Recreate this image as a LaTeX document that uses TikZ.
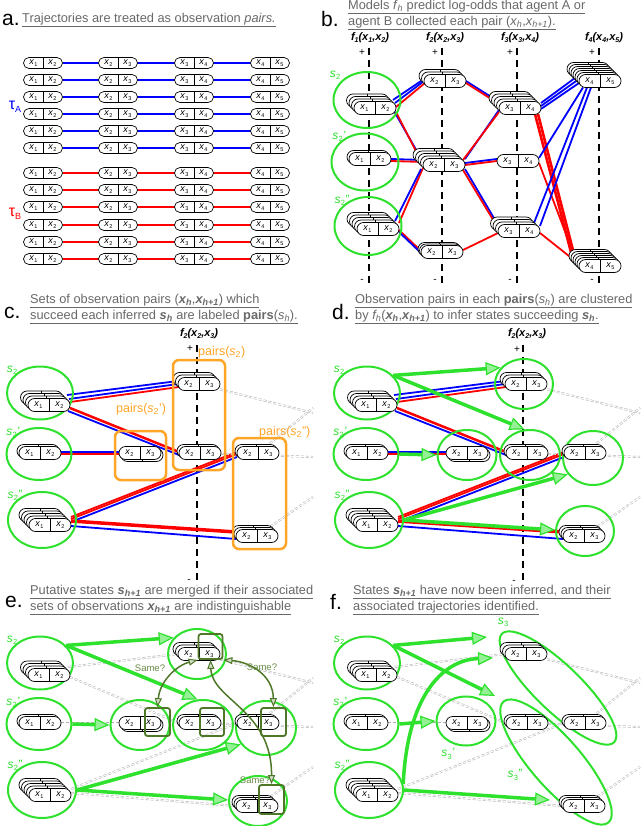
\documentclass[tikz,border=0pt]{standalone}
\usepackage{fontspec}
\setmainfont{Liberation Sans}
\setsansfont{Liberation Sans}
\usetikzlibrary{shapes.geometric,arrows.meta,calc}
\pgfdeclarelayer{back}
\pgfdeclarelayer{bg}
\pgfsetlayers{back,bg,main}
\definecolor{mygreen}{RGB}{45,225,45}
\definecolor{limefill}{RGB}{150,240,150}
\definecolor{dkg}{RGB}{78,120,40}
\definecolor{org}{RGB}{255,165,40}
\definecolor{ttlgray}{RGB}{105,105,105}
\definecolor{blu}{RGB}{0,0,255}
\definecolor{rd}{RGB}{255,0,0}
\definecolor{gry}{RGB}{175,175,175}
\newcommand\xx[1]{\textit{x}\kern0.2pt\raisebox{-0.3ex}{\fontsize{5.5}{6}\selectfont #1}}
\newcommand\sv[2]{\textit{s}\kern0.2pt\raisebox{-0.35ex}{\fontsize{7.5}{7.5}\selectfont #1}\textit{#2}}
\newcommand\fh[3]{{\bfseries\itshape f\raisebox{-0.3ex}{\fontsize{7}{7}\selectfont #1}(x\raisebox{-0.3ex}{\fontsize{7}{7}\selectfont #2},x\raisebox{-0.3ex}{\fontsize{7}{7}\selectfont #3})}}
\newcommand\pill[7]{%
  \ifnum#6>0
    \foreach \k in {#6,...,1}{%
      \draw[pillbg] ({#2-\pw-(#7)*\k},{#3-\ph-(#7)*\k}) rectangle ({#2+\pw-(#7)*\k},{#3+\ph-(#7)*\k});
      \draw[line width=0.7pt] ({#2-(#7)*\k},{#3-\ph-(#7)*\k}) -- ({#2-(#7)*\k},{#3+\ph-(#7)*\k});
    }%
  \fi
  \node[pillnode] (#1) at (#2,#3) {};
  \draw[line width=0.7pt] (#1.north) -- (#1.south);
  \node[pilltxt] at ([xshift=-\tq pt]#1.center) {\xx{#4}};
  \node[pilltxt] at ([xshift=\tq pt]#1.center) {\xx{#5}};
}
% block shared by panels c-f (coordinates of panel c)
\newcommand\blockell[1]{%
  \node[gell, minimum width=66pt, minimum height=53pt] (#1Es2) at (40,393) {};
  \node[gell, minimum width=65pt, minimum height=52pt] (#1Es2p) at (39,454) {};
  \node[gell, minimum width=68pt, minimum height=56pt] (#1Es2pp) at (42,520) {};
  \node[glab] at (12,370) {\sv{2}{}};
  \node[glab] at (13,432) {\sv{2}{'}};
  \node[glab] at (15,495) {\sv{2}{''}};
}
\newcommand\blockpills[1]{%
  \pill{#1s2}{49}{405}{1}{2}{3}{2.5}
  \pill{#1s2p}{40}{453}{1}{2}{1}{2}
  \pill{#1s2pp}{50}{525}{1}{2}{4}{2.5}
  \pill{#1top}{199}{384}{2}{3}{2}{2.5}
  \pill{#1mid}{200}{453}{2}{3}{1}{2}
  \pill{#1lft}{140}{453}{2}{3}{1}{-2}
  \pill{#1rt}{258}{453}{2}{3}{1}{2}
  \pill{#1rb}{257}{536}{2}{3}{2}{2}
}
\newcommand\blockclusters[1]{%
  \node[gell, minimum width=58pt, minimum height=50pt] (#1Ctop) at (197,384) {};
  \node[gell, minimum width=60pt, minimum height=50pt] (#1Cmid) at (203,455) {};
  \node[gell, minimum width=59pt, minimum height=50pt] (#1Clft) at (140,455) {};
  \node[gell, minimum width=60pt, minimum height=54pt] (#1Crt) at (266,458) {};
  \node[gell, minimum width=58pt, minimum height=50pt] (#1Crb) at (258,531) {};
}
\newcommand\blockgreyright[1]{%
  \coordinate (#1g1) at (313,413);
  \coordinate (#1g2) at (313,457);
  \coordinate (#1g3) at (313,408);
  \coordinate (#1g4) at (313,497);
  \begin{pgfonlayer}{bg}
    \draw[gdash] (#1top) -- (#1g1);
    \draw[gdash] (#1mid) -- (#1g2);
    \draw[gdash] (#1rt) -- (#1g3);
    \draw[gdash] (#1rb) -- (#1g4);
  \end{pgfonlayer}
}
\newcommand\blockcolor[1]{%
  \begin{pgfonlayer}{bg}
    \draw[bl] ($(#1s2.east)+(-3,-10)$) -- ($(#1top.west)+(0,-3)$);
    \draw[bl] ($(#1s2.east)+(-1,-6)$) -- ($(#1top.west)+(0,0)$);
    \draw[rl] ($(#1s2.east)+(0,-3)$) -- ($(#1top.west)+(1,3)$);
    \draw[rl, line width=2.5pt] ($(#1s2.east)+(0,3)$) -- ($(#1mid.west)+(0,-1)$);
    \draw[bl] ($(#1s2.east)+(-2,6)$) -- ($(#1mid.west)+(0,2)$);
    \draw[bl] ($(#1s2p.east)+(0,-1)$) -- ($(#1lft.west)+(0,-1)$);
    \draw[rl] ($(#1s2p.east)+(0,1)$) -- ($(#1lft.west)+(0,1)$);
    \draw[rl] ($(#1s2pp.east)+(0,-8)$) -- ($(#1rt.west)+(0,-1)$);
    \draw[rl] ($(#1s2pp.east)+(0,-6)$) -- ($(#1rt.west)+(0,1)$);
    \draw[bl] ($(#1s2pp.east)+(0,-3)$) -- ($(#1rt.west)+(0,4)$);
    \draw[rl, line width=3.5pt] ($(#1s2pp.east)+(0,-4)$) -- ($(#1rb.west)+(0,-4)$);
    \draw[bl] ($(#1s2pp.east)+(0,1)$) -- ($(#1rb.west)+(0,3)$);
  \end{pgfonlayer}
}
\newcommand\blockgreyconn[1]{%
  \begin{pgfonlayer}{bg}
    \draw[gdash] ($(#1s2.east)+(-2,-8)$) -- ($(#1top.west)+(0,0)$);
    \draw[gdash] ($(#1s2.east)+(0,2)$) -- (#1mid.west);
    \draw[gdash] (#1s2p.east) -- (#1lft.west);
    \draw[gdash] ($(#1s2pp.east)+(0,-6)$) -- (#1rt.west);
    \draw[gdash] ($(#1s2pp.east)+(0,-2)$) -- (#1rb.west);
  \end{pgfonlayer}
}
\newcommand\blockarrows[1]{%
  \draw[garr] (#1Es2.34) -- (#1Ctop.145);
  \draw[garr] (#1Es2.34) -- (#1Cmid.102);
  \draw[garr] (#1Es2p.east) -- (#1Clft.west);
  \draw[garr] (#1Es2pp.east) -- (#1Crt.213);
  \draw[garr] (#1Es2pp.east) -- (#1Crb.178);
}
\tikzset{
  pillnode/.style={draw, line width=0.7pt, fill=white, rounded corners=\ph pt, minimum width=\pwf pt, minimum height=\phf pt, inner sep=0pt, outer sep=0pt},
  pillbg/.style={draw, line width=0.7pt, fill=white, rounded corners=\ph pt},
  pilltxt/.style={font=\fontsize{9}{9}\selectfont, inner sep=0pt},
  gell/.style={draw=mygreen, line width=2pt, ellipse, inner sep=0pt},
  glab/.style={text=mygreen, font=\fontsize{12}{12}\selectfont, inner sep=0pt},
  bl/.style={draw=blu, line width=1.8pt},
  rl/.style={draw=rd, line width=1.8pt},
  vdash/.style={line width=2pt, dash pattern=on 7pt off 5pt},
  gdash/.style={draw=gry, line width=0.5pt, dash pattern=on 3pt off 2pt, double=white, double distance=1pt},
  garr/.style={draw=mygreen, line width=3.5pt, -{Triangle[length=15pt,width=13pt,fill=limefill,line width=1.2pt]}},
  obox/.style={draw=org, line width=2.5pt, rounded corners=6pt},
  olab/.style={text=org, font=\fontsize{12.5}{12.5}\selectfont, inner sep=0pt, anchor=west},
  kbox/.style={draw=dkg, line width=1.8pt, rounded corners=2.5pt, inner sep=0pt},
  kcur/.style={draw=dkg, line width=1.5pt, {Triangle[length=9pt,width=7pt,fill=dkg!25,line width=1pt]}-{Triangle[length=9pt,width=7pt,fill=dkg!25,line width=1pt]}},
  klab/.style={text=dkg!85, font=\fontsize{9.5}{9.5}\selectfont, inner sep=0pt},
  ttl/.style={text=ttlgray, font=\fontsize{12.8}{12.8}\selectfont, anchor=west, inner sep=0pt},
  plet/.style={font=\fontsize{21}{21}\selectfont, anchor=west, inner sep=0pt},
  hdr/.style={font=\fontsize{11}{11}\selectfont, inner sep=0pt},
  pm/.style={font=\fontsize{10}{10}\selectfont, inner sep=0pt},
}
\begin{document}
\begin{tikzpicture}[x=1pt,y=-1pt]
\begin{pgfonlayer}{back}
  \fill[white] (0,0) rectangle (640,826);
\end{pgfonlayer}
\useasboundingbox (0,0) rectangle (640,826);

%%%%%%%%%%%%%%%% panel a
\node[plet] at (2,20) {a.};
\node[ttl] at (22,20) {\underline{Trajectories are treated as observation \textit{pairs.}}};
\def\pw{19.5}\def\ph{5.5}\def\pwf{39}\def\phf{11}\def\tq{9.5}
\foreach \r/\yy in {1/63,2/80,3/97,4/114,5/131,6/148}{
  \pill{aA\r p}{43}{\yy}{1}{2}{0}{0}
  \pill{aA\r q}{118}{\yy}{2}{3}{0}{0}
  \pill{aA\r r}{194}{\yy}{3}{4}{0}{0}
  \pill{aA\r s}{270}{\yy}{4}{5}{0}{0}
  \begin{pgfonlayer}{bg}
    \draw[bl, line width=2pt] (aA\r p) -- (aA\r s);
  \end{pgfonlayer}
}
\foreach \r/\yy in {1/173,2/190,3/207,4/225,5/242,6/259}{
  \pill{aB\r p}{43}{\yy}{1}{2}{0}{0}
  \pill{aB\r q}{118}{\yy}{2}{3}{0}{0}
  \pill{aB\r r}{194}{\yy}{3}{4}{0}{0}
  \pill{aB\r s}{270}{\yy}{4}{5}{0}{0}
  \begin{pgfonlayer}{bg}
    \draw[rl, line width=2pt] (aB\r p) -- (aB\r s);
  \end{pgfonlayer}
}
\node[text=blu, font=\fontsize{16}{16}\selectfont, inner sep=0pt] (tauA) at (15,107) {τ\raisebox{-0.3ex}{\fontsize{9}{9}\selectfont A}};
\node[text=rd, font=\fontsize{16}{16}\selectfont, inner sep=0pt] (tauB) at (15,214) {τ\raisebox{-0.3ex}{\fontsize{9}{9}\selectfont B}};

%%%%%%%%%%%%%%%% panel b
\node[plet] at (321,19) {b.};
\node[ttl] at (348,7) {\underline{Models \textit{f}\textsubscript{\textit{h}} predict log-odds that agent A or}};
\node[ttl] at (348,23) {\underline{agent B collected each pair (\textit{x\textsubscript{h}},\textit{x\textsubscript{h+1}}).}};
\node[hdr] at (370,38) {\fh{1}{1}{2}};
\node[hdr] at (445,38) {\fh{2}{2}{3}};
\node[hdr] at (520,38) {\fh{3}{3}{4}};
\node[hdr] at (604,38) {\fh{4}{4}{5}};
\foreach \xv in {369,442,517,599}{
  \node[pm] at (\xv-7,53) {+};
  \node[pm] at (\xv-7,281) {-};
  \begin{pgfonlayer}{bg}
    \draw[vdash] (\xv,48) -- (\xv,285);
  \end{pgfonlayer}
}
\node[gell, minimum width=67pt, minimum height=56pt] (bE1) at (367,100) {};
\node[gell, minimum width=67pt, minimum height=57pt] (bE2) at (365,162) {};
\node[gell, minimum width=67pt, minimum height=58pt] (bE3) at (368,226) {};
\node[glab] at (335,75) {\sv{2}{}};
\node[glab] at (339,136) {\sv{2}{'}};
\node[glab] at (342,200) {\sv{2}{''}};
\def\pw{21}\def\ph{6.5}\def\pwf{42}\def\phf{13}\def\tq{10.5}
\pill{b11}{375}{108}{1}{2}{3}{2.5}
\pill{b12}{370}{159}{1}{2}{1}{2}
\pill{b13}{378}{229}{1}{2}{4}{2.5}
\pill{b21}{445}{81}{2}{3}{2}{2.5}
\pill{b22}{444}{165}{2}{3}{4}{2.5}
\pill{b23}{442}{252}{2}{3}{2}{1.5}
\pill{b31}{520}{108}{3}{4}{4}{2.5}
\pill{b32}{518}{161}{3}{4}{0}{0}
\pill{b33}{519}{231}{3}{4}{3}{2.5}
\pill{b41}{600}{81}{4}{5}{6}{2}
\pill{b42}{600}{266}{4}{5}{5}{2}
\begin{pgfonlayer}{bg}
  \draw[bl] ($(b11.east)+(-3,-8)$) -- ($(b21.west)+(0,-2)$);
  \draw[bl] ($(b11.east)+(-1,-5)$) -- ($(b21.west)+(0,0)$);
  \draw[rl] ($(b11.east)+(0,-1)$) -- ($(b21.west)+(1,2)$);
  \draw[bl] ($(b11.east)+(-2,3)$) -- ($(b22.west)+(0,-3)$);
  \draw[rl] ($(b11.east)+(0,4)$) -- ($(b22.west)+(0,0)$);
  \draw[bl] (b12.east) -- ($(b22.west)+(0,-5)$);
  \draw[rl] ($(b12.east)+(0,2)$) -- ($(b22.west)+(0,-3)$);
  \draw[rl] ($(b13.east)+(0,-6)$) -- ($(b22.west)+(0,3)$);
  \draw[bl] ($(b13.east)+(-4,-8)$) -- ($(b22.west)+(-2,4)$);
  \draw[rl] ($(b13.east)+(0,1)$) -- ($(b23.west)+(0,-1)$);
  \draw[bl] ($(b13.east)+(0,3)$) -- ($(b23.west)+(0,1)$);
  \draw[bl] ($(b21.east)+(0,0)$) -- ($(b31.west)+(0,-6)$);
  \draw[rl] ($(b21.east)+(0,2)$) -- ($(b31.west)+(0,-4)$);
  \draw[bl] ($(b22.east)+(0,-6)$) -- ($(b31.west)+(0,2)$);
  \draw[rl] ($(b22.east)+(-2,-5)$) -- ($(b31.west)+(0,4)$);
  \draw[bl] ($(b22.east)+(0,-2)$) -- ($(b32.west)+(0,-2)$);
  \draw[rl] (b22.east) -- (b32.west);
  \draw[bl] ($(b22.east)+(0,4)$) -- ($(b33.west)+(0,-6)$);
  \draw[rl] ($(b22.east)+(-2,5)$) -- ($(b33.west)+(0,-3)$);
  \draw[rl] ($(b23.east)+(0,-2)$) -- ($(b33.west)+(0,2)$);
  \draw[bl] ($(b31.east)+(0,-5)$) -- ($(b41.west)+(0,-6)$);
  \draw[bl] ($(b31.east)+(0,-2)$) -- ($(b41.west)+(0,-2)$);
  \draw[bl] ($(b31.east)+(0,1)$) -- ($(b41.west)+(0,2)$);
  \draw[rl, line width=2.6pt] ($(b31.east)+(-6,6)$) -- ($(b42.west)+(-6,-6)$);
  \draw[rl, line width=2.6pt] ($(b31.east)+(-3,6)$) -- ($(b42.west)+(-3,-4)$);
  \draw[bl] ($(b32.east)+(0,-3)$) -- ($(b41.south west)+(4,0)$);
  \draw[rl] ($(b32.east)+(0,2)$) -- ($(b42.west)+(-2,-3)$);
  \draw[bl] ($(b33.east)+(-6,-8)$) -- ($(b41.south west)+(8,0)$);
  \draw[bl] ($(b33.east)+(0,-5)$) -- ($(b41.south west)+(12,0)$);
  \draw[rl] ($(b33.east)+(0,2)$) -- ($(b42.west)+(0,-2)$);
\end{pgfonlayer}

%%%%%%%%%%%%%%%% panel c
\node[plet] at (4,313) {c.};
\node[ttl] at (30,301) {\underline{Sets of observation pairs (\textbf{\textit{x\textsubscript{h}}},\textbf{\textit{x\textsubscript{h+1}}}) which}};
\node[ttl] at (30,317) {\underline{succeed each inferred \textbf{\textit{s\textsubscript{h}}} are labeled \textbf{pairs}(\textit{s\textsubscript{h}}).}};
\node[hdr] at (199,334) {\fh{2}{2}{3}};
\node[pm] at (190,349) {+};
\node[pm] at (189,581) {-};
\begin{pgfonlayer}{bg}
  \draw[vdash] (197,345) -- (197,585);
\end{pgfonlayer}
\blockell{c}
\blockpills{c}
\blockcolor{c}
\blockgreyright{c}
\draw[obox] (173,360) rectangle (225,470);
\draw[obox] (115,431) rectangle (166,480);
\draw[obox] (233,438) rectangle (286,549);
\node[olab] at (198,352) {pairs(\textit{s}\textsubscript{2})};
\node[olab] at (116,409) {pairs(\textit{s}\textsubscript{2}’)};
\node[olab] at (259,432) {pairs(\textit{s}\textsubscript{2}”)};

%%%%%%%%%%%%%%%% panel d
\node[plet] at (332,312) {d.};
\node[ttl] at (355,301) {\underline{Observation pairs in each \textbf{pairs}(\textit{s\textsubscript{h}}) are clustered}};
\node[ttl] at (355,317) {\underline{by \textit{f\textsubscript{h}}(\textbf{\textit{x\textsubscript{h}}},\textbf{\textit{x\textsubscript{h+1}}}) to infer states succeeding \textbf{\textit{s\textsubscript{h}}}.}};
\node[hdr] at (527,334) {\fh{2}{2}{3}};
\node[pm] at (517,350) {+};
\node[pm] at (514,582) {-};
\begin{pgfonlayer}{bg}
  \draw[vdash] (523,345) -- (523,585);
\end{pgfonlayer}
\begin{scope}[shift={(327,0)}]
  \blockell{d}
  \blockclusters{d}
  \blockpills{d}
  \blockcolor{d}
  \blockgreyright{d}
  \blockarrows{d}
\end{scope}

%%%%%%%%%%%%%%%% panel e
\node[plet] at (5,602) {e.};
\node[ttl] at (30,592) {\underline{Putative states \textbf{\textit{s\textsubscript{h+1}}} are merged if their associated}};
\node[ttl] at (30,608) {\underline{sets of observations \textbf{\textit{x\textsubscript{h+1}}} are indistinguishable}};
\begin{scope}[shift={(0,270)}]
  \blockell{e}
  \blockclusters{e}
  \blockpills{e}
  \blockgreyconn{e}
  \blockgreyright{e}
  \blockarrows{e}
  \node[kbox, minimum width=24pt, minimum height=25pt] (eKtop) at (210.5,376.5) {};
  \node[kbox, minimum width=25pt, minimum height=28pt] (eKlft) at (157.5,452) {};
  \node[kbox, minimum width=24pt, minimum height=28pt] (eKmid) at (212,452) {};
  \node[kbox, minimum width=25pt, minimum height=28pt] (eKrt) at (273.5,452) {};
  \node[kbox, minimum width=25pt, minimum height=29pt] (eKrb) at (271.5,529.5) {};
  \draw[kcur] (eKtop.south west) .. controls (178,395) and (160,410) .. (eKlft.north);
  \draw[kcur] (eKtop.south) .. controls (212,430) and (272,440) .. (eKrb.north);
  \draw[kcur] (eKtop.south east) .. controls (250,392) and (273,405) .. (eKrt.north);
  \node[klab] at (150,398) {Same?};
  \node[klab] at (262,397) {Same?};
  \node[klab] at (255,510) {Same?};
\end{scope}

%%%%%%%%%%%%%%%% panel f
\node[plet] at (330,602) {f.};
\node[ttl] at (353,592) {\underline{States \textbf{\textit{s\textsubscript{h+1}}} have now been inferred, and their}};
\node[ttl] at (353,608) {\underline{associated trajectories identified.}};
\begin{scope}[shift={(327,270)}]
  \blockell{f}
  \node[gell, rotate=-44, minimum width=156pt, minimum height=46pt] (fS3) at (231,418) {};
  \node[gell, minimum width=59pt, minimum height=49pt] (fS3p) at (139,451) {};
  \node[gell, rotate=-49, minimum width=160pt, minimum height=50pt] (fS3pp) at (229,492) {};
  \node[glab] at (176,352) {\sv{3}{}};
  \node[glab] at (121,484) {\sv{3}{'}};
  \node[glab] at (188,505) {\sv{3}{''}};
  \blockpills{f}
  \blockgreyconn{f}
  \blockgreyright{f}
  \coordinate (fT1) at (160,367);
  \coordinate (fT2) at (168,426);
  \coordinate (fT3) at (166,388);
  \coordinate (fT5) at (223,530);
  \draw[garr] (fEs2.34) -- (fT1);
  \draw[garr] (fEs2.34) -- (fT2);
  \draw[garr] (fEs2pp.10) .. controls (80,430) and (113,390) .. (fT3);
  \draw[garr] (fEs2p.east) -- (fS3p.west);
  \draw[garr] (fEs2pp.east) -- (fT5);
\end{scope}
\end{tikzpicture}
\end{document}
